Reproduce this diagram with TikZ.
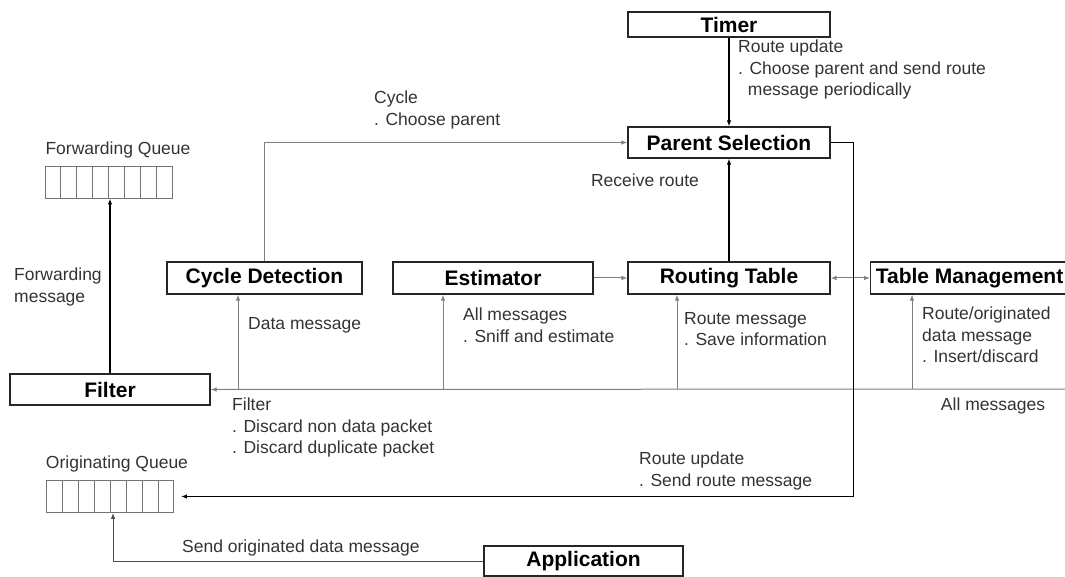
\documentclass[tikz,border=0pt]{standalone}
\usepackage{fontspec}
\setmainfont{Liberation Sans}
\usetikzlibrary{arrows.meta,positioning,calc}

\begin{document}
\begin{tikzpicture}[
    x=1pt, y=-1pt,
    >={Latex[length=6pt,width=4.5pt]},
    box/.style={rectangle, draw=black!85, line width=1.1pt, inner sep=0pt, font=\fontsize{21}{24}\selectfont\bfseries},
    queue/.style={rectangle, draw=black!55, line width=0.9pt, minimum width=127pt, minimum height=32pt, inner sep=0pt},
    lbl/.style={font=\fontsize{17.5}{21.5}\selectfont, text=black!80, inner sep=0pt, align=left},
    gline/.style={draw=black!50, line width=1pt},
    bline/.style={draw=black, line width=1.2pt},
]
\useasboundingbox (0,0) rectangle (1065,577);

% boxes
\node[box, minimum width=202pt, minimum height=25pt] (timer) at (729,24.5) {Timer};
\node[box, minimum width=202pt, minimum height=31pt] (parent) at (729,142.5) {Parent Selection};
\node[box, minimum width=195pt, minimum height=32pt] (cycle) at (264.5,278) {Cycle Detection};
\node[box, minimum width=200pt, minimum height=32pt] (estim) at (493,278) {Estimator};
\node[box, minimum width=202pt, minimum height=32pt] (routing) at (729,278) {Routing Table};
\node[box, minimum width=198pt, minimum height=32pt, anchor=west] (tblmgmt) at (870,278) {Table Management};
\node[box, minimum width=200pt, minimum height=31pt] (filter) at (110,389.5) {Filter};
\node[box, minimum width=199pt, minimum height=30pt] (app) at (583.5,561) {Application};

% queues
\node[queue] (fq) at (108.5,182) {};
\node[queue] (oq) at (110,496.5) {};
\foreach \q in {fq,oq}
  \foreach \i in {1,...,7}
    \draw[black!55, line width=0.9pt] ($(\q.north west)!\i/8!(\q.north east)$) -- ($(\q.south west)!\i/8!(\q.south east)$);

% bus
\coordinate (busend) at (1066,389);
\coordinate (b1) at (238,389);
\coordinate (b2) at (443,389);
\coordinate (b3) at (677,389);
\coordinate (b4) at (912,389);

% connectors
\draw[bline,->] (timer) -- (parent);
\draw[bline,->] (routing) -- (parent);
\draw[gline,->] (cycle.north) |- (parent.west);
\draw[gline,->] (estim) -- (routing);
\draw[gline,<->] (routing) -- (tblmgmt);
\draw[bline,->] (filter.north) -- (filter.north |- fq.south);
\draw[gline,->] (busend) -- (filter.east);
\draw[gline,->] (b1) -- (b1 |- cycle.south);
\draw[gline,->] (b2) -- (b2 |- estim.south);
\draw[gline,->] (b3) -- (b3 |- routing.south);
\draw[gline,->] (b4) -- (b4 |- tblmgmt.south);
\draw[bline,->, shorten >=7pt] (parent.east) -- ++(23,0) |- (oq.east);
\draw[gline,draw=black!70,->] (app.west) -| ($(oq.south)+(3,0)$);

% labels
\node[lbl, anchor=north west] (lbltimer) at (738,40) {Route update\\. Choose parent and send route\\\phantom{.\ }message periodically};
\node[lbl, anchor=north west] (lblcycle) at (374,91) {Cycle\\. Choose parent};
\node[lbl] (lblrecv) at (645,180) {Receive route};
\node[lbl] (lblfq) at (118,150) {Forwarding Queue};
\node[lbl, anchor=north west] (lblfwd) at (14,268) {Forwarding\\message};
\node[lbl, anchor=west] (lbldata) at (248,325) {Data message};
\node[lbl, anchor=north west] (lblest) at (463,308) {All messages\\. Sniff and estimate};
\node[lbl, anchor=north west] (lblrt) at (684,312) {Route message\\. Save information};
\node[lbl, anchor=north west] (lbltm) at (922,307) {Route/originated\\data message\\. Insert/discard};
\node[lbl] (lblall) at (993,406) {All messages};
\node[lbl, anchor=north west] (lblfilter) at (232,398) {Filter\\. Discard non data packet\\. Discard duplicate packet};
\node[lbl] (lbloq) at (117,464) {Originating Queue};
\node[lbl, anchor=north west] (lblru) at (639,452) {Route update\\. Send route message};
\node[lbl, anchor=west] (lblsend) at (182,548) {Send originated data message};
\end{tikzpicture}
\end{document}
